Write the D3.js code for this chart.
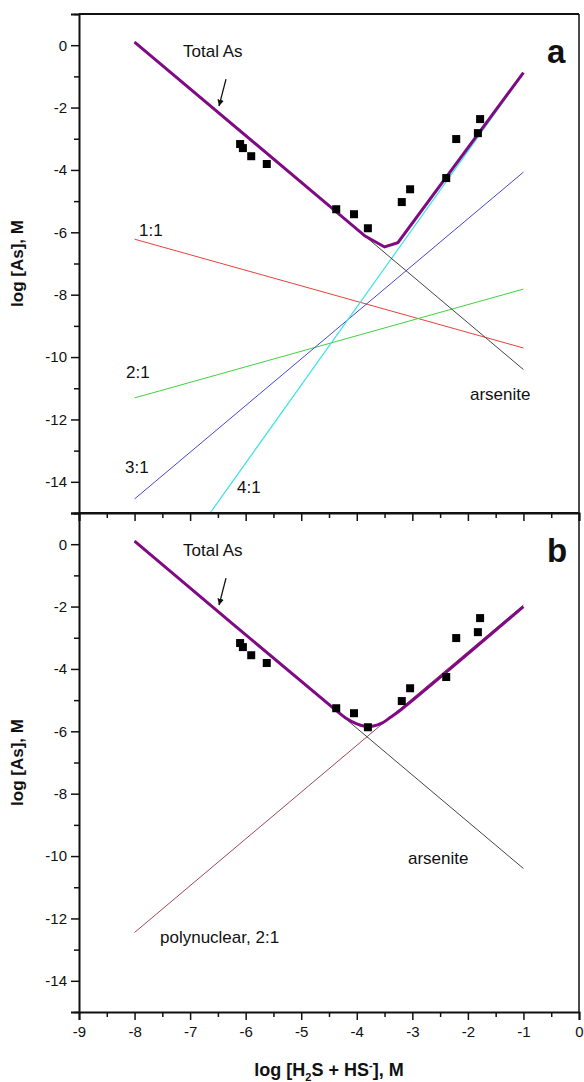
<!DOCTYPE html>
<html>
<head>
<meta charset="utf-8">
<script src="https://cdn.jsdelivr.net/npm/d3@7"></script>
<style>
  body { margin: 0; background: #fff; }
  text { font-family: "Liberation Sans", Arial, sans-serif; fill: #111; }
  .tick text { font-size: 15px; }
  .lbl { font-size: 17px; }
  .ttl { font-size: 17px; font-weight: bold; }
</style>
</head>
<body>
<div id="chart"></div>
<script>
// ---- data ----
const xMajor = [-9, -8, -7, -6, -5, -4, -3, -2, -1, 0];
const xMinor = [-8.5, -7.5, -6.5, -5.5, -4.5, -3.5, -2.5, -1.5, -0.5];
const yMajor = [-14, -12, -10, -8, -6, -4, -2, 0];
const yMinor = [-15, -13, -11, -9, -7, -5, -3, -1, 1];

// measured As (same points in both panels)
const measX = [-6.10, -6.05, -5.90, -5.62, -4.37, -4.05, -3.80, -3.19, -3.04, -2.39, -2.21, -1.82, -1.78];
const measY = [-3.17, -3.30, -3.56, -3.81, -5.26, -5.42, -5.87, -5.03, -4.62, -4.26, -3.01, -2.82, -2.37];

// panel a
const totalA = [[-8, 0.1], [-3.85, -6.12], [-3.5, -6.47], [-3.26, -6.33], [-1, -0.88]];
const arseniteA = [[-8, 0.1], [-1, -10.4]];
const r11 = [[-8, -6.22], [-1, -9.71]];
const r21 = [[-8, -11.31], [-1, -7.82]];
const r31 = [[-8, -14.55], [-1, -4.07]];
const r41 = [[-6.64, -15], [-1, -0.9]];

// panel b
const totalB = [[-8, 0.1], [-4.4, -5.29], [-4.2, -5.57], [-4.0, -5.76], [-3.85, -5.84], [-3.7, -5.83],
                [-3.55, -5.74], [-3.4, -5.56], [-3.2, -5.3], [-1, -2.0]];
const arseniteB = [[-8, 0.1], [-1, -10.4]];
const poly21 = [[-8, -12.45], [-1, -1.95]];

const W = 584, H = 1082;
const svg = d3.select("#chart").append("svg")
    .attr("width", W)
    .attr("height", H);

svg.append("defs").append("marker")
    .attr("id", "arrow")
    .attr("viewBox", "0 -5 10 10")
    .attr("refX", 10)
    .attr("refY", 0)
    .attr("markerWidth", 5)
    .attr("markerHeight", 5)
    .attr("orient", "auto")
    .append("path")
    .attr("d", "M0,-5L10,0L0,5Z")
    .attr("fill", "#111");

const x = d3.scaleLinear().domain([-9, 0]).range([79, 579]);

const panels = [
    { id: "a", y: d3.scaleLinear().domain([-15, 1]).range([513, 14]) },
    { id: "b", y: d3.scaleLinear().domain([-15, 1]).range([1012, 513]) }
];

function drawLine(g, y, pts, color, width) {
    const line = d3.line().x(d => x(d[0])).y(d => y(d[1]));
    g.append("path")
        .attr("d", line(pts))
        .attr("fill", "none")
        .attr("stroke", color)
        .attr("stroke-width", width);
}

function drawSmooth(g, y, pts, color, width) {
    const line = d3.line().x(d => x(d[0])).y(d => y(d[1])).curve(d3.curveCatmullRom);
    g.append("path")
        .attr("d", line(pts))
        .attr("fill", "none")
        .attr("stroke", color)
        .attr("stroke-width", width)
        .attr("stroke-linejoin", "round");
}

panels.forEach(p => {
    const y = p.y;
    const g = svg.append("g");

    g.append("clipPath").attr("id", "clip-" + p.id)
        .append("rect")
        .attr("x", x(-9)).attr("y", y(1))
        .attr("width", x(0) - x(-9)).attr("height", y(-15) - y(1));

    const plot = g.append("g").attr("clip-path", `url(#clip-${p.id})`);

    if (p.id === "a") {
        drawLine(plot, y, r11, "#e8413c", 1);
        drawLine(plot, y, r21, "#3fd23f", 1);
        drawLine(plot, y, r31, "#4646d2", 1);
        drawLine(plot, y, r41, "#3fe3e3", 1.2);
        drawLine(plot, y, arseniteA, "#444", 1);
        drawLine(plot, y, totalA, "#7f0a83", 3);
    } else {
        drawLine(plot, y, poly21, "#a0465a", 1);
        drawLine(plot, y, arseniteB, "#444", 1);
        drawSmooth(plot, y, totalB, "#7f0a83", 3);
    }

    plot.selectAll(".pt")
        .data(measX.map((v, i) => [v, measY[i]]))
        .enter().append("rect")
        .attr("x", d => x(d[0]) - 4)
        .attr("y", d => y(d[1]) - 4)
        .attr("width", 8)
        .attr("height", 8)
        .attr("fill", "#000");

    // left axis
    const yAx = g.append("g").attr("transform", `translate(${x(-9)},0)`)
        .call(d3.axisLeft(y).tickValues(yMajor).tickSize(8).tickPadding(4).tickFormat(d => String(d)));
    yAx.select(".domain").attr("stroke-width", 2).attr("stroke", "#111");
    yAx.selectAll(".tick line").attr("stroke-width", 1.5).attr("stroke", "#111");

    const yMin = g.append("g").attr("transform", `translate(${x(-9)},0)`)
        .call(d3.axisLeft(y).tickValues(yMinor).tickSize(5).tickFormat(""));
    yMin.select(".domain").remove();
    yMin.selectAll(".tick line").attr("stroke-width", 1.5).attr("stroke", "#111");

    // bottom axis
    const yb = y(-15);
    const xAx = g.append("g").attr("transform", `translate(0,${yb})`)
        .call(d3.axisBottom(x).tickValues(xMajor).tickSize(8).tickPadding(6)
            .tickFormat(p.id === "b" ? (d => String(d)) : ""));
    xAx.select(".domain").attr("stroke-width", 2).attr("stroke", "#111");
    xAx.selectAll(".tick line").attr("stroke-width", 1.5).attr("stroke", "#111");

    const xMin = g.append("g").attr("transform", `translate(0,${yb})`)
        .call(d3.axisBottom(x).tickValues(xMinor).tickSize(5).tickFormat(""));
    xMin.select(".domain").remove();
    xMin.selectAll(".tick line").attr("stroke-width", 1.5).attr("stroke", "#111");

    // top and right frame
    g.append("line")
        .attr("x1", x(-9)).attr("x2", x(0))
        .attr("y1", y(1)).attr("y2", y(1))
        .attr("stroke", "#111").attr("stroke-width", 2);
    g.append("line")
        .attr("x1", x(0)).attr("x2", x(0))
        .attr("y1", y(1)).attr("y2", y(-15))
        .attr("stroke", "#111").attr("stroke-width", 1.5);

    // panel letter
    g.append("text")
        .attr("x", 547).attr("y", y(1) + 49)
        .style("font-size", "33px").style("font-weight", "bold")
        .text(p.id);

    // Total As label with arrow
    g.append("text").attr("class", "lbl")
        .attr("x", 183).attr("y", y(0) + 12)
        .text("Total As");
    g.append("line")
        .attr("x1", 226).attr("y1", y(0) + 34)
        .attr("x2", 219).attr("y2", y(0) + 61)
        .attr("stroke", "#111").attr("stroke-width", 1.3)
        .attr("marker-end", "url(#arrow)");

    // y title
    g.append("text").attr("class", "ttl")
        .attr("transform", `translate(23,${(y(1) + y(-15)) / 2}) rotate(-90)`)
        .attr("text-anchor", "middle")
        .text("log [As], M");

    if (p.id === "a") {
        g.append("text").attr("class", "lbl").attr("x", 139).attr("y", 236).text("1:1");
        g.append("text").attr("class", "lbl").attr("x", 126).attr("y", 378).text("2:1");
        g.append("text").attr("class", "lbl").attr("x", 125).attr("y", 473).text("3:1");
        g.append("text").attr("class", "lbl").attr("x", 237).attr("y", 493).text("4:1");
        g.append("text").attr("class", "lbl").attr("x", 470).attr("y", 400).text("arsenite");
    } else {
        g.append("text").attr("class", "lbl").attr("x", 408).attr("y", 864).text("arsenite");
        g.append("text").attr("class", "lbl").attr("x", 160).attr("y", 943).text("polynuclear, 2:1");
    }
});

// x title
const xt = svg.append("text").attr("class", "ttl")
    .attr("x", 329).attr("y", 1076)
    .attr("text-anchor", "middle")
    .style("font-size", "18px");
xt.append("tspan").text("log [H");
xt.append("tspan").attr("dy", 5).style("font-size", "11px").text("2");
xt.append("tspan").attr("dy", -5).text("S + HS");
xt.append("tspan").attr("dy", -7).style("font-size", "11px").text("-");
xt.append("tspan").attr("dy", 7).text("], M");
</script>
</body>
</html>
